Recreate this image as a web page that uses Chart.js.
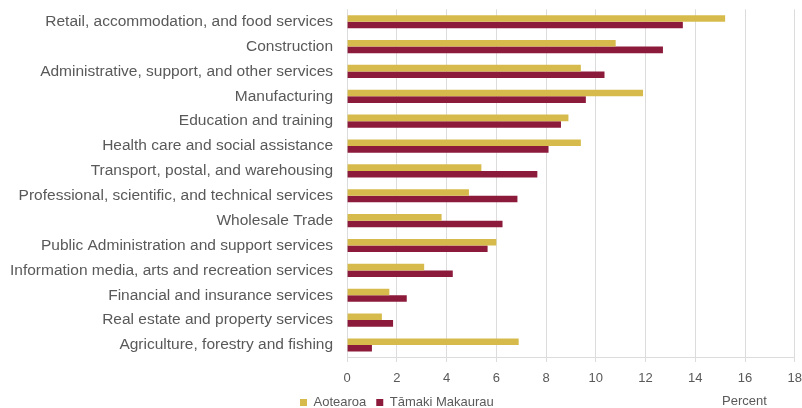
<!DOCTYPE html>
<html>
<head>
<meta charset="utf-8">
<script src="https://cdn.jsdelivr.net/npm/chart.js@4"></script>
<style>
  html, body { margin: 0; padding: 0; background: #fff; overflow: hidden; }
  #wrap { width: 802px; height: 408px; }
</style>
</head>
<body>
<div id="wrap"><canvas id="myChart" width="802" height="408"></canvas></div>
<script>
const industries = [
  'Retail, accommodation, and food services',
  'Construction',
  'Administrative, support, and other services',
  'Manufacturing',
  'Education and training',
  'Health care and social assistance',
  'Transport, postal, and warehousing',
  'Professional, scientific, and technical services',
  'Wholesale Trade',
  'Public Administration and support services',
  'Information media, arts and recreation services',
  'Financial and insurance services',
  'Real estate and property services',
  'Agriculture, forestry and fishing'
];
const aotearoa = [15.2, 10.8, 9.4, 11.9, 8.9, 9.4, 5.4, 4.9, 3.8, 6.0, 3.1, 1.7, 1.4, 6.9];
const tamaki = [13.5, 12.7, 10.35, 9.6, 8.6, 8.1, 7.65, 6.85, 6.25, 5.65, 4.25, 2.4, 1.85, 1.0];
const seriesNames = ['Aotearoa', 'Tāmaki Makaurau'];
const axisTitle = 'Percent';

const textColor = '#595959';
const gridColor = '#dcdcdc';
const fontFamily = 'Arial, "Liberation Sans", Helvetica, sans-serif';

Chart.defaults.font.family = fontFamily;
Chart.defaults.font.size = 13;
Chart.defaults.color = textColor;

// moves the legend to where it sits in the original and writes the axis label next to it
const legendAndTitle = {
  id: 'legendAndTitle',
  afterLayout(chart) {
    const lg = chart.legend;
    const w = lg.right - lg.left;
    const h = lg.bottom - lg.top;
    lg.left = 290;
    lg.right = 290 + w;
    lg.top = 386;
    lg.bottom = 386 + h;
  },
  afterDraw(chart) {
    const ctx = chart.ctx;
    ctx.save();
    ctx.font = '13px ' + fontFamily;
    ctx.fillStyle = textColor;
    ctx.textAlign = 'left';
    ctx.textBaseline = 'middle';
    ctx.fillText(axisTitle, 722, 401);
    ctx.restore();
  }
};

const ctx = document.getElementById('myChart');
new Chart(ctx, {
  type: 'bar',
  data: {
    labels: industries,
    datasets: [
      { label: seriesNames[0], data: aotearoa, backgroundColor: '#D6BB4C' },
      { label: seriesNames[1], data: tamaki, backgroundColor: '#8C1A3B' }
    ]
  },
  options: {
    indexAxis: 'y',
    responsive: false,
    animation: false,
    layout: { padding: { top: 0, left: 10, bottom: -11 } },
    datasets: {
      bar: { categoryPercentage: 0.53, barPercentage: 1.0 }
    },
    plugins: {
      legend: {
        position: 'bottom',
        align: 'start',
        labels: { boxWidth: 7, boxHeight: 7, padding: 10, color: textColor }
      },
      tooltip: { enabled: false }
    },
    scales: {
      x: {
        min: 0,
        max: 18,
        ticks: { stepSize: 2, padding: 0, color: textColor },
        // long tick slot but only a short dash is visible, as in the original
        grid: { color: gridColor, tickLength: 13, tickColor: gridColor, tickBorderDash: [4, 40] },
        border: { color: gridColor }
      },
      y: {
        ticks: { padding: 0, color: textColor, autoSkip: false, font: { size: 15.5 } },
        grid: { drawOnChartArea: false, tickLength: 14, tickColor: 'rgba(0,0,0,0)' },
        border: { display: false }
      }
    }
  },
  plugins: [legendAndTitle]
});
</script>
</body>
</html>
